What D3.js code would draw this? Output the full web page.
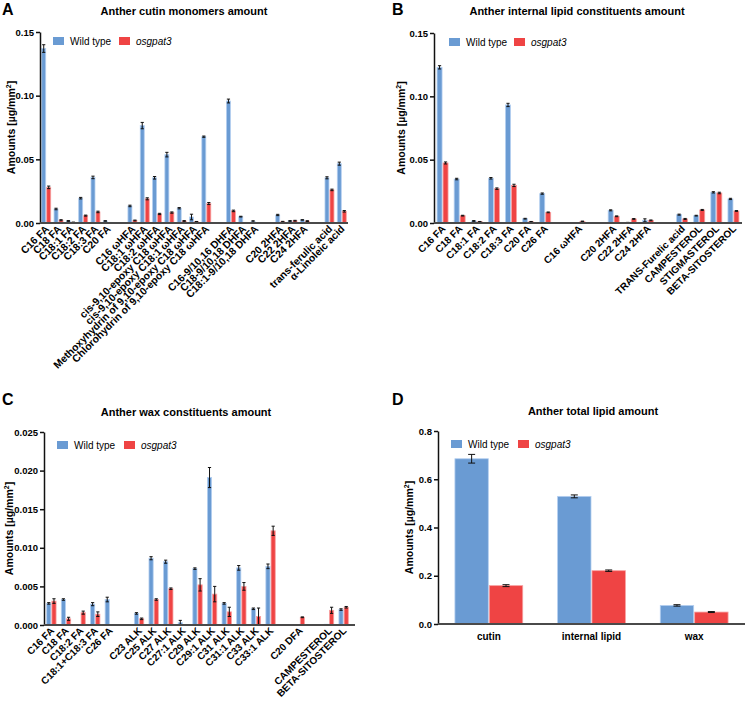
<!DOCTYPE html>
<html><head><meta charset="utf-8">
<script src="https://cdn.jsdelivr.net/npm/d3@7"></script>
<style>
body{margin:0;background:#fff;}
svg{display:block;font-family:"Liberation Sans",Arial,Helvetica,sans-serif;}
</style></head>
<body>
<svg id="chart" width="750" height="703"></svg>
<script>
// ---------- DATA ----------
const seriesNames = ["Wild type", "osgpat3"];

// Panel A: cutin monomers
const cutinCats = ["C16 FA","C18 FA","C18:1 FA","C18:2 FA","C18:3 FA","C20 FA","","C16 ωHFA","C18:1 ωHFA","C18:2 ωHFA","cis-9,10-epoxy C18 ωHFA","cis-9,10-epoxy C18:1 ωHFA","Methoxyhydrin of 9,10-epoxy C18 ωHFA","Chlorohydrin of 9,10-epoxy C18 ωHFA","","C16-9/10,16 DHFA","C18-9/10,18 DHFA","C18:1-9/10,18 DHFA","","C20 2HFA","C22 2HFA","C24 2HFA","","trans-ferulic acid","α-Linoleic acid"];
const cutinWT     = [0.137,0.011,0.0016,0.0195,0.0358,0.0016,null,0.0134,0.0765,0.0355,0.0537,0.0116,0.0047,0.0678,null,0.0958,0.005,0.0013,null,0.0063,0.0016,0.0024,null,0.0355,0.0466];
const cutinWTErr  = [0.003,0.0006,0.0003,0.0006,0.001,0.0002,null,0.0006,0.0025,0.001,0.0018,0.0005,0.0022,0.0005,null,0.0015,0.0003,0.0005,null,0.0005,0.0003,0.0002,null,0.0008,0.0012];
const cutinMut    = [0.028,0.0022,0.0005,0.0058,0.0087,0.0003,null,0.002,0.019,0.0071,0.0082,0.0016,0.001,0.0153,null,0.0095,0.0003,0.0002,null,0.001,0.0018,0.0015,null,0.026,0.0092];
const cutinMutErr = [0.001,0.0004,0.0002,0.0004,0.0006,0.0001,null,0.0003,0.0008,0.0005,0.0005,0.0003,0.0002,0.0008,null,0.0006,0.0001,0.0001,null,0.0003,0.0003,0.0003,null,0.0006,0.0006];
const cutinTicks  = [0, 0.05, 0.10, 0.15];

// Panel B: internal lipid constituents
const internalCats = ["C16 FA","C18 FA","C18:1 FA","C18:2 FA","C18:3 FA","C20 FA","C26 FA","","C16 ωHFA","","C20 2HFA","C22 2HFA","C24 2HFA","","TRANS-Furelic acid","CAMPESTEROL","STIGMASTEROL","BETA-SITOSTEROL"];
const internalWT     = [0.1229,0.0347,0.0016,0.0353,0.0932,0.0034,0.0232,null,0,null,0.010,0.0003,0.0021,null,0.0066,0.0058,0.0242,0.019];
const internalWTErr  = [0.0013,0.0006,0.0003,0.0006,0.0013,0.0003,0.0005,null,0,null,0.0004,0.0002,0.0012,null,0.0004,0.0003,0.0005,0.0005];
const internalMut    = [0.0474,0.0058,0.001,0.0271,0.0297,0.001,0.0084,null,0.0013,null,0.0053,0.0032,0.0021,null,0.0032,0.0103,0.0237,0.0095];
const internalMutErr = [0.0008,0.0003,0.0002,0.0006,0.0009,0.0002,0.0003,null,0.0002,null,0.0003,0.0003,0.0003,null,0.0004,0.0004,0.0006,0.0003];
const internalTicks  = [0, 0.05, 0.10, 0.15];

// Panel C: wax constituents
const waxCats = ["C16 FA","C18 FA","C18:2 FA","C18:1+C18:3 FA","C26 FA","","C23 ALK","C25 ALK","C27 ALK","C27:1 ALK","C29 ALK","C29:1 ALK","C31 ALK","C31:1 ALK","C33 ALK","C33:1 ALK","","C20 DFA","","CAMPESTEROL","BETA-SITOSTEROL"];
const waxWT     = [0.0028,0.0033,0,0.0027,0.0033,null,0.0015,0.00865,0.0082,0.0003,0.0073,0.0191,0.0028,0.0074,0.0021,0.0076,null,0,null,0.0001,0.002];
const waxWTErr  = [0.0001,0.0001,0,0.0002,0.0003,null,0.0001,0.0002,0.0002,0.0003,0.0001,0.0013,0.0001,0.0003,0.0001,0.0003,null,0,null,0,0.0001];
const waxMut    = [0.0031,0.0008,0.0016,0.0014,0,null,0.0008,0.0033,0.0047,0,0.0052,0.004,0.0017,0.005,0.0011,0.0122,null,0.001,null,0.0019,0.0023];
const waxMutErr = [0.0003,0.0002,0.0002,0.0003,0,null,0.0001,0.0001,0.0001,0,0.0008,0.001,0.0006,0.0005,0.0011,0.0006,null,0.00005,null,0.0004,0.0001];
const waxTicks  = [0, 0.005, 0.010, 0.015, 0.020, 0.025];

// Panel D: totals
const totalCats   = ["cutin","internal lipid","wax"];
const totalWT     = [0.685,0.529,0.077];
const totalWTErr  = [0.018,0.006,0.003];
const totalMut    = [0.159,0.221,0.0495];
const totalMutErr = [0.004,0.003,0.002];
const totalTicks  = [0, 0.2, 0.4, 0.6, 0.8];

// ---------- DRAWING ----------
const COL = ["#6a9bd3", "#ef4444"];
const EDGE = ["#b4cff0", "#f7a0a0"];
const svg = d3.select("#chart");

function panel(cfg) {
  const g = svg.append("g");
  const n = cfg.cats.length;
  const x = d3.scaleBand().domain(d3.range(n)).range([cfg.x0, cfg.x1])
      .paddingInner(cfg.padIn).paddingOuter(cfg.padOut);
  const xs = d3.scaleBand().domain([0,1]).range([0, x.bandwidth()]);
  const y = d3.scaleLinear().domain([0, cfg.ymax]).range([cfg.y0, cfg.yTop]);

  // letter and title
  g.append("text").attr("x", cfg.letterX).attr("y", cfg.letterY)
    .attr("font-size", 16).attr("font-weight", "bold").text(cfg.letter);
  g.append("text").attr("x", cfg.titleX).attr("y", cfg.titleY)
    .attr("text-anchor", "middle").attr("font-size", 11).attr("font-weight", "bold").text(cfg.title);

  // bars
  const series = [[cfg.wt, cfg.wtErr], [cfg.mut, cfg.mutErr]];
  series.forEach(([vals, errs], si) => {
    const data = vals.map((v, i) => ({i, v, e: errs[i]})).filter(d => d.v !== null);
    g.append("g").selectAll("rect").data(data).join("rect")
      .attr("x", d => x(d.i) + xs(si) + 0.5)
      .attr("y", d => y(d.v))
      .attr("width", xs.bandwidth() - 1)
      .attr("height", d => cfg.y0 - y(d.v))
      .attr("fill", COL[si]).attr("stroke", EDGE[si]).attr("stroke-width", 0.8);
    const eb = data.filter(d => d.v > 0 && d.e > 0);
    const cx = d => x(d.i) + xs(si) + xs.bandwidth() / 2;
    const eg = g.append("g").attr("stroke", "#111").attr("stroke-width", 1);
    eg.selectAll("line.v").data(eb).join("line")
      .attr("x1", cx).attr("x2", cx)
      .attr("y1", d => y(d.v + d.e)).attr("y2", d => y(Math.max(0, d.v - d.e)));
    eg.selectAll("line.t").data(eb).join("line")
      .attr("x1", d => cx(d) - cfg.cap).attr("x2", d => cx(d) + cfg.cap)
      .attr("y1", d => y(d.v + d.e)).attr("y2", d => y(d.v + d.e));
    eg.selectAll("line.b").data(eb).join("line")
      .attr("x1", d => cx(d) - cfg.cap).attr("x2", d => cx(d) + cfg.cap)
      .attr("y1", d => y(Math.max(0, d.v - d.e))).attr("y2", d => y(Math.max(0, d.v - d.e)));
  });

  // y axis
  const ya = g.append("g").attr("transform", `translate(${cfg.x0},0)`)
    .call(d3.axisLeft(y).tickValues(cfg.ticks).tickFormat(d3.format(cfg.fmt)).tickSize(4).tickSizeOuter(0));
  ya.select(".domain").attr("stroke", "#111").attr("stroke-width", 1.5);
  ya.selectAll(".tick line").attr("stroke", "#111").attr("stroke-width", 1.5);
  ya.selectAll(".tick text").attr("font-size", 9.5).attr("font-weight", "bold")
    .attr("fill", "#000").attr("font-family", "Liberation Sans, Arial, sans-serif").attr("x", -6);

  // x axis
  const xa = g.append("g").attr("transform", `translate(0,${cfg.y0})`)
    .call(d3.axisBottom(x).tickSize(0).tickSizeOuter(0).tickFormat(i => cfg.cats[i]));
  xa.select(".domain").remove();
  xa.append("line").attr("x1", cfg.x0).attr("x2", cfg.axisEnd).attr("y1", 0).attr("y2", 0)
    .attr("stroke", "#4a4a4a").attr("stroke-width", 2);
  const xt = xa.selectAll(".tick text").attr("font-size", cfg.xFont).attr("font-weight", "bold")
    .attr("fill", "#000").attr("font-family", "Liberation Sans, Arial, sans-serif");
  if (cfg.rotate) {
    xt.attr("text-anchor", "end").attr("dy", "0.35em").attr("y", 0)
      .attr("transform", "translate(1,4) rotate(-45)");
  } else {
    xt.attr("y", 9).attr("dy", "0.71em");
  }

  // y title
  const yt = g.append("text")
    .attr("transform", `translate(${cfg.ytX},${(cfg.y0 + cfg.yTop) / 2}) rotate(-90)`)
    .attr("text-anchor", "middle").attr("font-size", 10.5).attr("font-weight", "bold");
  yt.append("tspan").text("Amounts [µg/mm");
  yt.append("tspan").attr("font-size", 7).attr("dy", -4).text("2");
  yt.append("tspan").attr("dy", 4).text("]");

  // legend
  const lg = g.append("g").attr("transform", `translate(${cfg.legX},${cfg.legY})`);
  const offs = [0, cfg.legGap];
  seriesNames.forEach((s, i) => {
    lg.append("rect").attr("x", offs[i]).attr("y", -8).attr("width", 11).attr("height", 8).attr("fill", COL[i]);
    lg.append("text").attr("x", offs[i] + 17).attr("y", 0).attr("font-size", 10)
      .attr("font-style", i === 1 ? "italic" : "normal").text(s);
  });
}

panel({letter:"A", letterX:2, letterY:15, title:"Anther cutin monomers amount", titleX:184, titleY:15,
  cats:cutinCats, wt:cutinWT, wtErr:cutinWTErr, mut:cutinMut, mutErr:cutinMutErr, ticks:cutinTicks, fmt:".2f",
  ymax:0.15, x0:40, x1:348, axisEnd:348, y0:223, yTop:32, padIn:0.19, padOut:0.1, cap:1.6, rotate:true, xFont:10.4,
  ytX:15, legX:53, legY:45, legGap:66});

panel({letter:"B", letterX:392, letterY:15, title:"Anther internal lipid constituents amount", titleX:577, titleY:15,
  cats:internalCats, wt:internalWT, wtErr:internalWTErr, mut:internalMut, mutErr:internalMutErr, ticks:internalTicks, fmt:".2f",
  ymax:0.15, x0:434, x1:742, axisEnd:742, y0:223, yTop:33, padIn:0.3, padOut:0.15, cap:1.6, rotate:true, xFont:10,
  ytX:405, legX:449, legY:46, legGap:65});

panel({letter:"C", letterX:2, letterY:405, title:"Anther wax constituents amount", titleX:186, titleY:416,
  cats:waxCats, wt:waxWT, wtErr:waxWTErr, mut:waxMut, mutErr:waxMutErr, ticks:waxTicks, fmt:".3f",
  ymax:0.025, x0:44, x1:351, axisEnd:355, y0:625, yTop:432, padIn:0.29, padOut:0.15, cap:1.6, rotate:true, xFont:10,
  ytX:13, legX:57, legY:449, legGap:67});

panel({letter:"D", letterX:392, letterY:405, title:"Anther total lipid amount", titleX:593, titleY:415,
  cats:totalCats, wt:totalWT, wtErr:totalWTErr, mut:totalMut, mutErr:totalMutErr, ticks:totalTicks, fmt:".1f",
  ymax:0.8, x0:438, x1:745, axisEnd:745, y0:624, yTop:431, padIn:0.33, padOut:0.16, cap:3.5, rotate:false, xFont:10,
  ytX:413, legX:451, legY:448, legGap:67});
</script>
</body></html>
